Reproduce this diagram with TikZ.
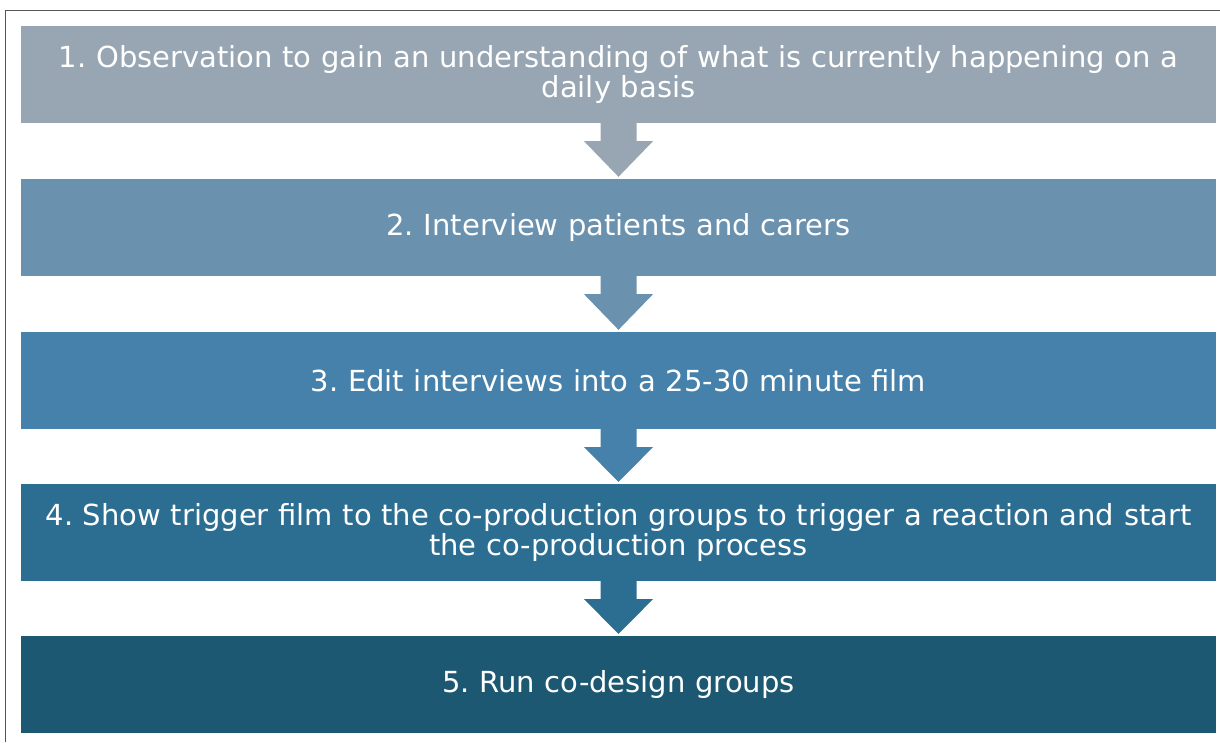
\documentclass[tikz,border=0pt]{standalone}
\usepackage{fontspec}
\setmainfont{DejaVu Sans}
\usetikzlibrary{calc}
\frenchspacing
\definecolor{cA}{HTML}{98A6B3}
\definecolor{cB}{HTML}{6A91AE}
\definecolor{cC}{HTML}{4581AA}
\definecolor{cD}{HTML}{2C6D92}
\definecolor{cE}{HTML}{1D5872}
\definecolor{frame}{HTML}{555555}
\tikzset{
  stepbox/.style={rectangle, minimum width=1195pt, minimum height=97pt, inner sep=0pt,
    text=white, align=center, text width=1180pt,
    font=\fontsize{29}{30}\selectfont\frenchspacing},
}
\newcommand{\steparrow}[3]{%
  \fill[#3] ($(#1.south)+(-18,0)$) -- ($(#1.south)+(18,0)$) -- ($(#1.south)+(18,18)$)
    -- ($(#1.south)+(34.5,18)$) -- ($(#2.north)+(0,-2)$) -- ($(#1.south)+(-34.5,18)$)
    -- ($(#1.south)+(-18,18)$) -- cycle;}
\begin{document}
\begin{tikzpicture}[x=1pt,y=-1pt]
\useasboundingbox (0,0) rectangle (1220,742);
\draw[frame, line width=1pt] (5,742) -- (5,10) -- (1220,10);
\node[stepbox, fill=cA] (b1) at (618.5,74.5) {1. Observation to gain an understanding of what is currently happening on a\\daily basis};
\node[stepbox, fill=cB] (b2) at (618.5,227.5) {2. Interview patients and carers};
\node[stepbox, fill=cC] (b3) at (618.5,380.5) {3. Edit interviews into a 25-30 minute film};
\node[stepbox, fill=cD] (b4) at (618.5,532.5) {4. Show trigger film to the co-production groups to trigger a reaction and start\\the co-production process};
\node[stepbox, fill=cE] (b5) at (618.5,684.5) {5. Run co-design groups};
\steparrow{b1}{b2}{cA}
\steparrow{b2}{b3}{cB}
\steparrow{b3}{b4}{cC}
\steparrow{b4}{b5}{cD}
\end{tikzpicture}
\end{document}
